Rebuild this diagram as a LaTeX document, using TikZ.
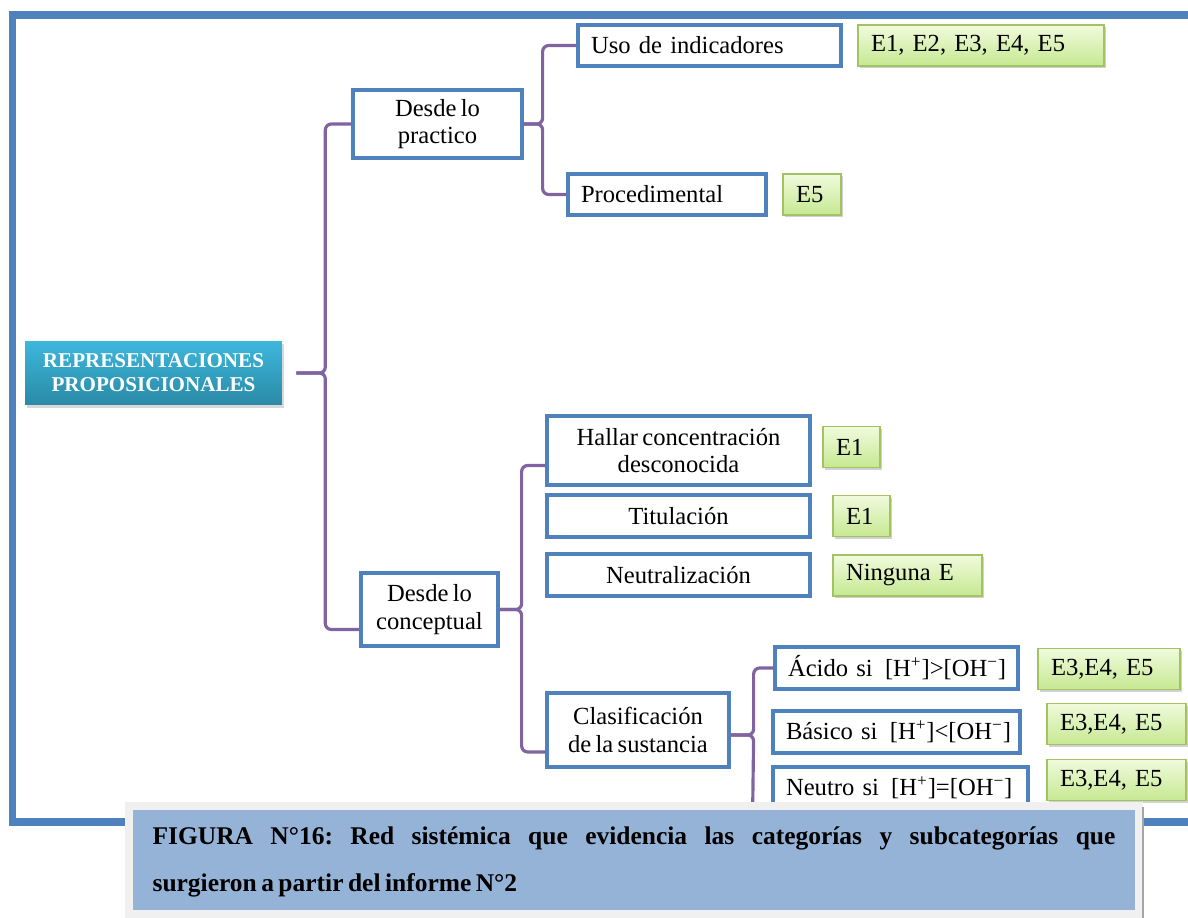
\documentclass[tikz,border=0pt]{standalone}
\usepackage{fontspec}
\setmainfont{Liberation Serif}[WordSpace=0.7]
\usetikzlibrary{shadows}
\frenchspacing

\definecolor{boxblue}{HTML}{4F81BD}
\definecolor{linkviolet}{HTML}{8064A2}
\definecolor{capblue}{HTML}{95B3D7}
\definecolor{evtop}{HTML}{F0FBDD}
\definecolor{evbot}{HTML}{C6E891}
\definecolor{evline}{HTML}{A3C262}
\definecolor{roottop}{HTML}{3DB7DC}
\definecolor{rootbot}{HTML}{2A8AA6}

\begin{document}
\begin{tikzpicture}[x=0.02cm,y=-0.02cm,
    box/.style={draw=boxblue,line width=1.9pt,fill=white,font=\fontsize{14}{15.5}\selectfont,align=center,inner sep=0pt},
    lbox/.style={box,align=left,inner xsep=0.26cm,text width=#1},
    evbox/.style={draw=evline,line width=0.8pt,top color=evtop,bottom color=evbot,
        drop shadow={shadow xshift=1.2pt,shadow yshift=-1.2pt,fill=black!30,opacity=0.6},
        font=\fontsize{14}{15.5}\selectfont,align=left,inner xsep=0.26cm,minimum height=0.82cm,text width=#1},
    link/.style={draw=linkviolet,line width=1.8pt,rounded corners=0.12cm}]
  \useasboundingbox (0,0) rectangle (1188,918);
  % frame
  \draw[boxblue,line width=4.5pt] (12.5,15) rectangle (1240,822);

  % root and categories
  \node[top color=roottop,bottom color=rootbot,minimum width=5.14cm,minimum height=1.28cm,
        drop shadow={shadow xshift=1pt,shadow yshift=-1.5pt,fill=black!30,opacity=0.5},
        text=white,font=\fontsize{12}{13.6}\selectfont\bfseries,align=center] (root) at (153.5,373)
        {REPRESENTACIONES\\PROPOSICIONALES};
  \node[box,minimum width=3.38cm,minimum height=1.36cm] (prac) at (437.5,124) {Desde lo\\practico};
  \node[box,minimum width=2.74cm,minimum height=1.46cm] (conc) at (429.5,609.5) {Desde lo\\conceptual};

  % subcategories
  \node[lbox=4.74cm,minimum height=0.82cm] (uso) at (709.5,45.5) {Uso de indicadores};
  \node[lbox=3.44cm,minimum height=0.82cm] (proc) at (667,194.5) {Procedimental};
  \node[box,minimum width=5.26cm,minimum height=1.38cm] (hallar) at (678.5,450.5) {Hallar concentración\\desconocida};
  \node[box,minimum width=5.26cm,minimum height=0.84cm] (titu) at (678.5,516) {Titulación};
  \node[box,minimum width=5.26cm,minimum height=0.84cm] (neut) at (678.5,575) {Neutralización};
  \node[box,minimum width=3.64cm,minimum height=1.48cm] (clas) at (638,730) {Clasificación\\de la sustancia};
  \node[lbox=4.34cm,minimum height=0.84cm] (acido) at (896.5,668) {\mbox{Ácido si\, [H\textsuperscript{+}]>[OH\textsuperscript{−}]}};
  \node[lbox=4.42cm,minimum height=0.84cm] (basico) at (896.5,732) {\mbox{Básico si\, [H\textsuperscript{+}]<[OH\textsuperscript{−}]}};
  \node[lbox=4.58cm,minimum height=0.84cm] (neutro) at (900.5,788) {\mbox{Neutro si\, [H\textsuperscript{+}]=[OH\textsuperscript{−}]}};

  % evidences
  \foreach \n/\x/\y/\w/\t in {usoE/981/45.5/4.40/{E1, E2, E3, E4, E5},procE/812/194.5/0.64/{E5},
      hallarE/851.5/447/0.62/{E1},tituE/861.5/516/0.62/{E1},neutE/907.5/575.5/2.46/{Ninguna E},
      acidoE/1109/669/2.32/{E3,E4, E5},basicoE/1116.5/724/2.26/{E3,E4, E5},neutroE/1116.5/780/2.26/{E3,E4, E5}}
    \node[evbox=\w cm] (\n) at (\x,\y) {\t};

  % brackets
  \draw[link] ([xshift=0.28cm]root.east) -- ++(29,0) |- (prac.west);
  \draw[link] ([xshift=0.28cm]root.east) -- ++(29,0) |- ([yshift=-0.4cm]conc.west);
  \draw[link] (prac.east) -- ++(19,0) |- (uso.west);
  \draw[link] (prac.east) -- ++(19,0) |- (proc.west);
  \draw[link] (conc.east) -- ++(22,0) |- ([yshift=-0.3cm]hallar.west);
  \draw[link] (conc.east) -- ++(22,0) |- ([yshift=-0.44cm]clas.west);
  \coordinate (clasend) at (752,860);
  \draw[link] ([yshift=-0.1cm]clas.east) -- ++(23,0) |- (acido.west);
  \draw[link] ([yshift=-0.1cm]clas.east) -- ++(23,0) -- (clasend);

  % caption
  \fill[black!6] (125,802) rectangle (1143,918);
  \draw[black!35,line width=0.8pt] (1143,807) -- (1143,918);
  \fill[capblue] (133,810) rectangle (1135,910);
  \node[text width=19.26cm,align=justify,inner sep=0pt,font=\fontsize{14.5}{27}\selectfont\bfseries] (caption) at (634,862)
    {FIGURA N°16: Red sistémica que evidencia las categorías y subcategorías que\linebreak surgieron a partir del informe N°2};
\end{tikzpicture}
\end{document}
